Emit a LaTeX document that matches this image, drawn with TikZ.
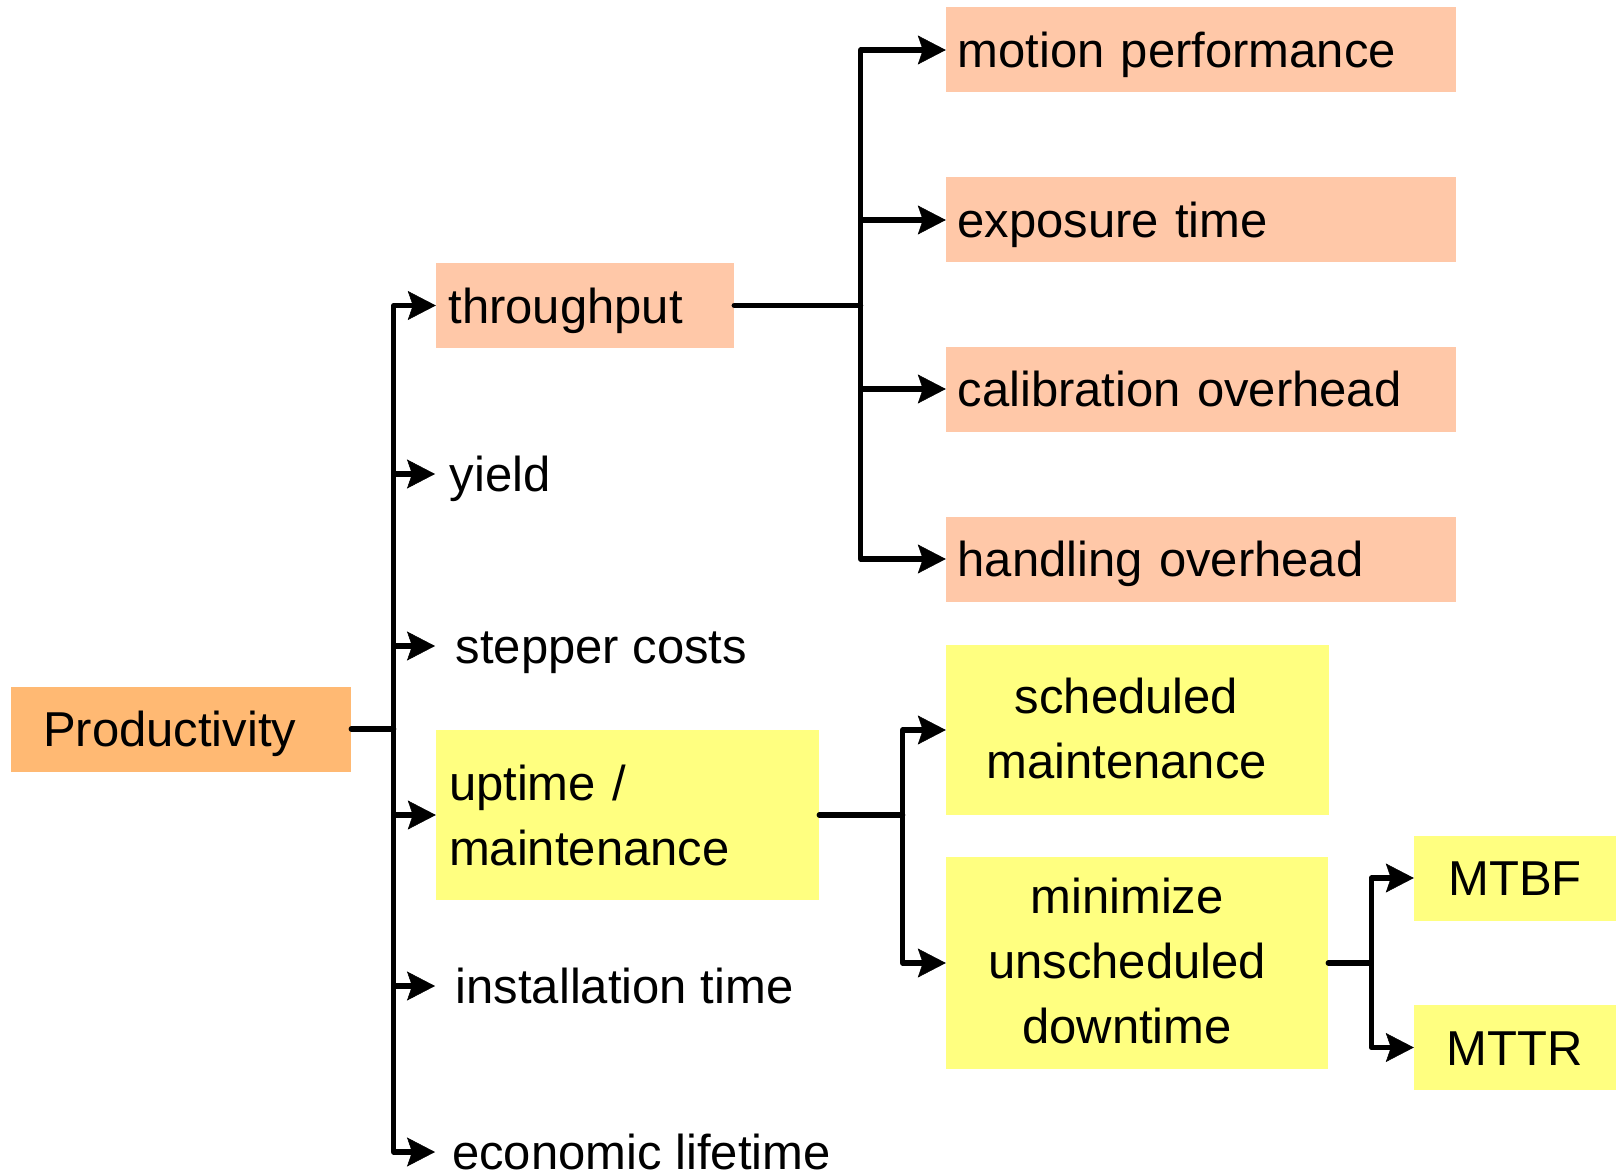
\documentclass[tikz,border=0pt]{standalone}
\usepackage{fontspec}
\setmainfont{Liberation Sans}
\usetikzlibrary{arrows.meta}
\definecolor{prodfill}{RGB}{255,185,115}
\definecolor{salmon}{RGB}{255,200,168}
\definecolor{yel}{RGB}{255,255,128}
\begin{document}
\begin{tikzpicture}[x=1pt,y=-1pt,
  every node/.style={font=\fontsize{49}{65}\selectfont, inner ysep=0pt},
  one/.style={text height=35pt, text depth=0pt},
  box/.style={minimum height=85pt},
  conn/.style={line width=5.2pt, line cap=round, line join=round},
  arr/.style={conn, -{Stealth[length=28pt,width=29pt,inset=5pt,line width=0.5pt]}},
  lbl/.style={one, anchor=west},
]
\useasboundingbox (0,0) rectangle (1616,1174);

% boxes
\node[box, one, fill=prodfill, inner xsep=32pt, text width=276pt, align=left] (prod) at (181,729) {Productivity};
\node[box, one, fill=salmon, inner xsep=12.5pt, text width=273pt, align=left] (thr) at (585,305.5) {throughput};
\node[box, one, fill=salmon, inner xsep=11.5pt, text width=487pt, align=left] (mp) at (1201,50) {motion performance};
\node[box, one, fill=salmon, inner xsep=11.5pt, text width=487pt, align=left] (ex) at (1201,220) {exposure time};
\node[box, one, fill=salmon, inner xsep=11.5pt, text width=487pt, align=left] (co) at (1201,389) {calibration overhead};
\node[box, one, fill=salmon, inner xsep=11.5pt, text width=487pt, align=left] (ho) at (1201,559) {handling overhead};
\node[fill=yel, inner xsep=13pt, text width=357pt, align=left, minimum height=170pt] (up) at (627.5,815) {uptime /\\maintenance};
\node[fill=yel, inner xsep=0pt, minimum width=383pt, minimum height=170pt] (sm) at (1137.5,730)
  {\raisebox{-2.5pt}[\height][\depth]{\begin{tabular}{@{}c@{}}scheduled\\maintenance\end{tabular}}\hspace*{22pt}};
\node[fill=yel, inner xsep=0pt, minimum width=382pt, minimum height=212pt] (mi) at (1137,963)
  {\raisebox{-2.5pt}[\height][\depth]{\begin{tabular}{@{}c@{}}minimize\\unscheduled\\downtime\end{tabular}}\hspace*{20pt}};
\node[box, one, fill=yel, inner xsep=0pt, minimum width=202pt] (mtbf) at (1515,878) {MTBF};
\node[box, one, fill=yel, inner xsep=0pt, minimum width=202pt] (mttr) at (1515,1047.5) {MTTR};

% plain labels
\node[lbl, inner xsep=14.5pt] (yi) at (435,474) {yield};
\node[lbl, inner xsep=20.5pt] (sc) at (435,646) {stepper costs};
\node[lbl, inner xsep=20.5pt] (it) at (435,986) {installation time};
\node[lbl, inner xsep=17pt] (el) at (435,1152) {economic lifetime};

% junctions
\coordinate (j1) at ([xshift=42.5pt]prod.east);
\coordinate (j2) at ([xshift=126.5pt]thr.east);
\coordinate (j3) at ([xshift=83.5pt]up.east);
\coordinate (j4) at ([xshift=43pt]mi.east);

% connectors
\draw[conn] (prod.east) -- (j1);
\foreach \n in {thr,yi,sc,up,it,el} \draw[arr] (j1) |- (\n.west);
\draw[conn] (thr.east) -- (j2);
\foreach \n in {mp,ex,co,ho} \draw[arr] (j2) |- (\n.west);
\draw[conn] (up.east) -- (j3);
\foreach \n in {sm,mi} \draw[arr] (j3) |- (\n.west);
\draw[conn] (mi.east) -- (j4);
\foreach \n in {mtbf,mttr} \draw[arr] (j4) |- (\n.west);
\end{tikzpicture}
\end{document}
